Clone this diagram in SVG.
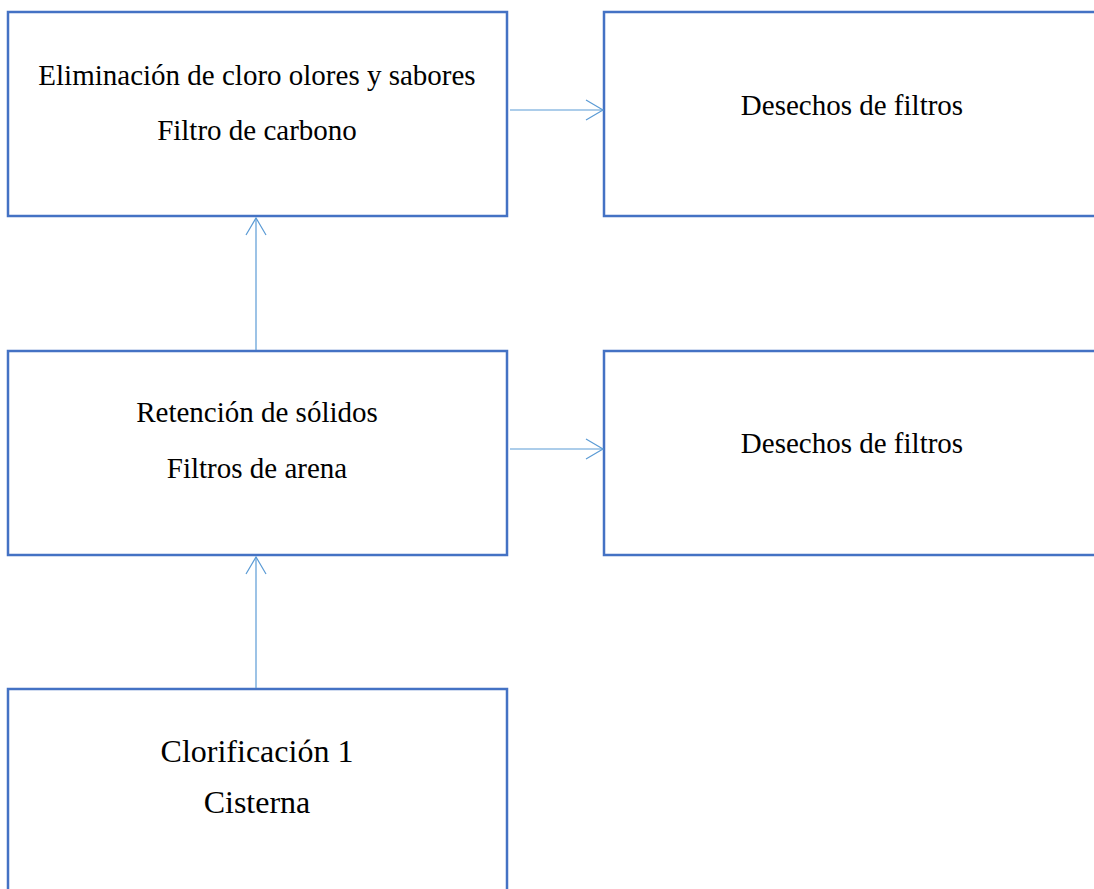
<svg xmlns="http://www.w3.org/2000/svg" width="1094" height="889" viewBox="0 0 1094 889">
<style>
.box{fill:#fff;stroke:#4472C4;stroke-width:2.5}
.t{font-family:"Liberation Serif","Times New Roman",serif;font-size:29px;fill:#000;text-anchor:middle}
.tl{font-family:"Liberation Serif","Times New Roman",serif;font-size:32px;fill:#000;text-anchor:middle}
.c{stroke:#5B9BD5;stroke-width:1.2;fill:none}
</style>
<defs>
<marker id="ah" markerWidth="20" markerHeight="24" refX="18" refY="12" orient="auto" markerUnits="userSpaceOnUse">
<path d="M1,2 L18,12 L1,22" fill="none" stroke="#5B9BD5" stroke-width="1.2"/>
</marker>
</defs>
<rect width="1094" height="889" fill="#fff"/>
<g id="n1"><rect class="box" x="8" y="12" width="499" height="204"/>
<text class="t" x="257" y="85">Eliminación de cloro olores y sabores</text>
<text class="t" x="257" y="140">Filtro de carbono</text></g>
<g id="n2"><rect class="box" x="604" y="12" width="500" height="204"/>
<text class="t" x="852" y="115">Desechos de filtros</text></g>
<g id="n3"><rect class="box" x="8" y="351" width="499" height="204"/>
<text class="t" x="257" y="422">Retención de sólidos</text>
<text class="t" x="257" y="478">Filtros de arena</text></g>
<g id="n4"><rect class="box" x="604" y="351" width="500" height="204"/>
<text class="t" x="852" y="453">Desechos de filtros</text></g>
<g id="n5"><rect class="box" x="8" y="689" width="499" height="220"/>
<text class="tl" x="257" y="762">Clorificación 1</text>
<text class="tl" x="257" y="813">Cisterna</text></g>
<g id="connectors">
<line class="c" x1="510" y1="110" x2="603" y2="110" marker-end="url(#ah)"/>
<line class="c" x1="510" y1="449" x2="603" y2="449" marker-end="url(#ah)"/>
<line class="c" x1="256" y1="350" x2="256" y2="218" marker-end="url(#ah)"/>
<line class="c" x1="256" y1="688" x2="256" y2="557" marker-end="url(#ah)"/>
</g>
</svg>
